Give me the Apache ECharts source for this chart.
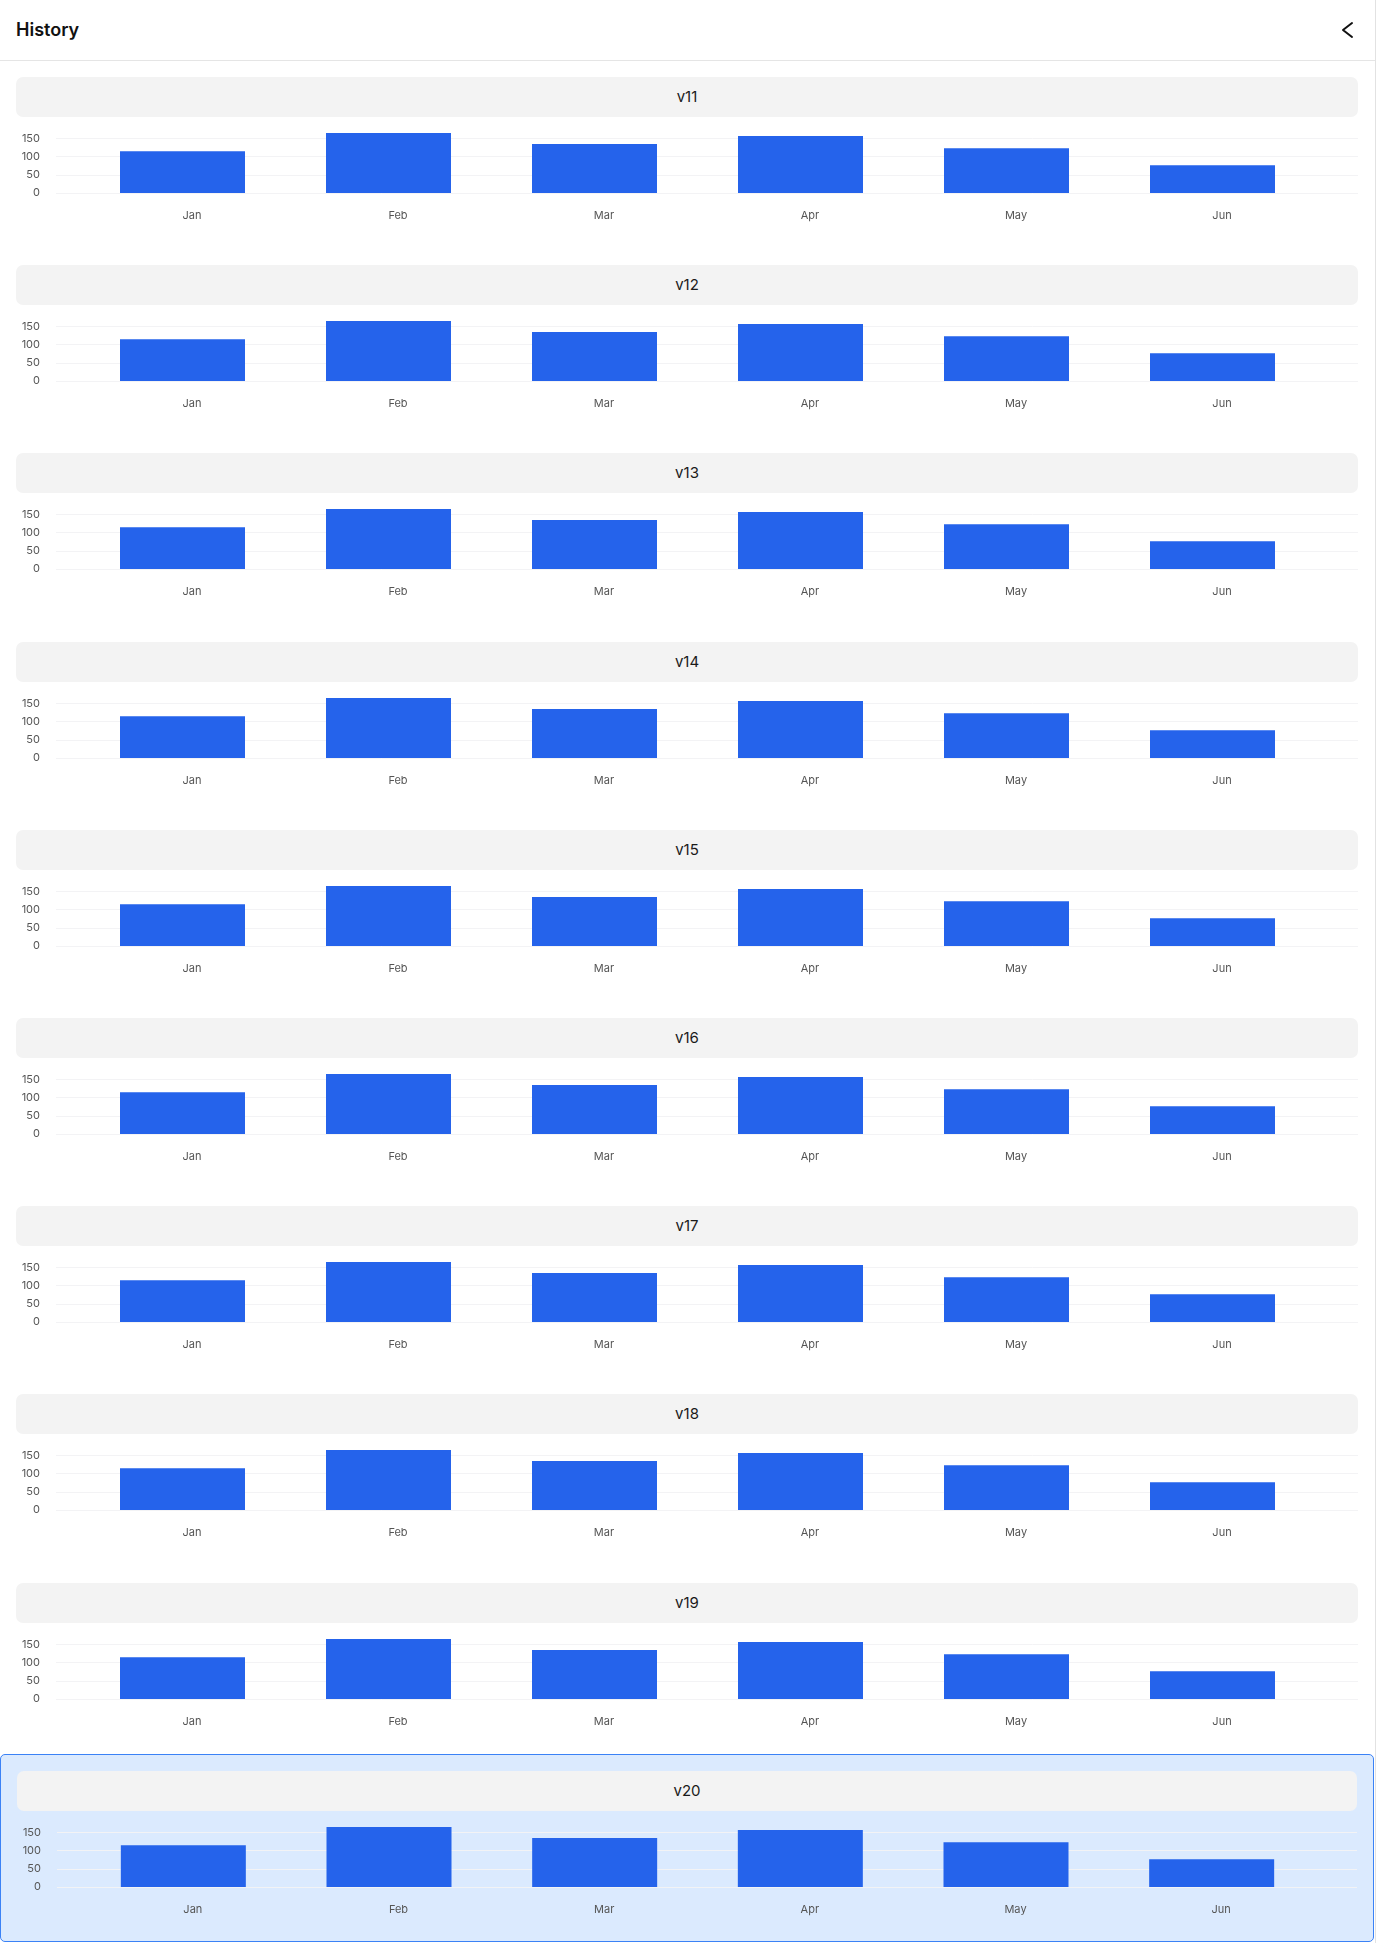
<!DOCTYPE html>
<html>
<head>
<meta charset="utf-8">
<title>History</title>
<script src="https://cdn.jsdelivr.net/npm/echarts@6/dist/echarts.min.js"></script>
<style>
  html, body { margin: 0; padding: 0; background: #fff; font-family: Inter, "Noto Sans", sans-serif; }
  .page { position: relative; width: 1376px; height: 1943px; overflow: hidden; }
  .header { position: absolute; left: 0; top: 0; width: 1375px; height: 60px; border-bottom: 1px solid #e5e5e5; }
  .header h1 { margin: 0; position: absolute; left: 16px; top: 0; line-height: 60px; font-size: 18px; font-weight: 600; color: #111; }
  .header svg { position: absolute; left: 1340px; top: 20px; }
  .edge { position: absolute; right: 0; top: 0; width: 1px; height: 1943px; background: #e2e2e2; }
  .item { position: absolute; left: 0; width: 1374px; height: 188px; box-sizing: border-box; }
  .item.active { background: #dbeafe; border: 1px solid #3b82f6; border-radius: 5px; }
  .item .label { position: absolute; left: 16px; right: 16px; top: 16px; height: 40px; background: #f3f3f3; border-radius: 7px;
    text-align: center; line-height: 40px; font-size: 15px; color: #1a1a1a; }
  .item .chart { position: absolute; left: 16px; right: 16px; top: 72px; height: 100px; }
</style>
</head>
<body>
<div class="page" id="page">
  <div class="header">
    <h1>History</h1>
    <svg width="16" height="20" viewBox="0 0 16 20"><polyline points="12,3 3,10 12,17" fill="none" stroke="#111" stroke-width="2" stroke-linecap="round" stroke-linejoin="round"/></svg>
  </div>
  <div class="edge"></div>
</div>
<script>
// data
var versions = ['v11', 'v12', 'v13', 'v14', 'v15', 'v16', 'v17', 'v18', 'v19', 'v20'];
var months = ['Jan', 'Feb', 'Mar', 'Apr', 'May', 'Jun'];
var values = [110, 158, 129, 150, 118, 73];
var yTicks = [0, 50, 100, 150];
var activeVersion = 'v20';

window.onload = function () {
  var page = document.getElementById('page');
  for (var i = 0; i < versions.length; i++) {
    var v = versions[i];
    var item = document.createElement('div');
    item.className = 'item' + (v === activeVersion ? ' active' : '');
    var top = 61 + i * 188.2;
    if (v === activeVersion) top -= 1;
    item.style.top = top + 'px';
    item.innerHTML = '<div class="label">' + v + '</div><div class="chart"></div>';
    page.appendChild(item);
    makeChart(item.querySelector('.chart'));
  }
}

function makeChart(el) {
  var mychart = echarts.init(el, null, { renderer: 'canvas' });
  var option = {
    animation: false,
    textStyle: { fontFamily: 'Inter, "Noto Sans", sans-serif' },
    grid: [
      { left: 40, right: 0, top: 3, height: 57 },
      { left: 63.5, right: 42.5, top: 3, height: 57 }
    ],
    xAxis: [
      { gridIndex: 0, type: 'category', data: months, show: false },
      {
        gridIndex: 1, type: 'category', data: months,
        axisLine: { show: false }, axisTick: { show: false },
        axisLabel: { color: '#555', fontSize: 11, margin: 16, lineHeight: 14, padding: [0, 0, 0, 19] }
      }
    ],
    yAxis: [
      {
        gridIndex: 0, type: 'value', min: yTicks[0], max: yTicks[yTicks.length - 1], interval: 50,
        axisLine: { show: false }, axisTick: { show: false },
        axisLabel: { color: '#555', fontSize: 11, margin: 16 },
        splitLine: { lineStyle: { color: '#f3f3f5', width: 1 } }
      },
      { gridIndex: 1, type: 'value', min: yTicks[0], max: yTicks[yTicks.length - 1], show: false, splitLine: { show: false } }
    ],
    series: [{
      type: 'bar',
      xAxisIndex: 1,
      yAxisIndex: 1,
      data: values,
      barWidth: 125,
      clip: false,
      itemStyle: { color: '#2563eb' }
    }]
  };
  mychart.setOption(option);
}
</script>
</body>
</html>
